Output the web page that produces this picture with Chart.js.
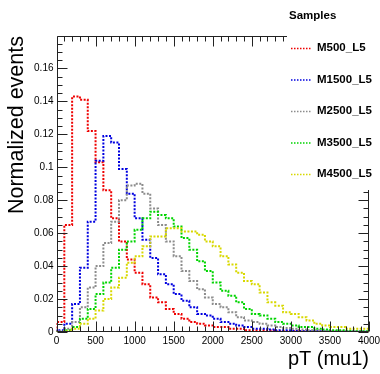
<!DOCTYPE html>
<html>
<head>
<meta charset="utf-8">
<script src="https://cdn.jsdelivr.net/npm/chart.js@4/dist/chart.umd.min.js"></script>
<style>
  html, body { margin: 0; padding: 0; background: #fff; }
  #wrap { width: 380px; height: 374px; }
</style>
</head>
<body>
<div id="wrap"><canvas id="chart" width="380" height="374"></canvas></div>
<script>
// bin edges of pT (mu1), 100 GeV bins
const binEdges = [0, 100, 200, 300, 400, 500, 600, 700, 800, 900, 1000, 1100, 1200, 1300, 1400,
  1500, 1600, 1700, 1800, 1900, 2000, 2100, 2200, 2300, 2400, 2500, 2600, 2700, 2800, 2900,
  3000, 3100, 3200, 3300, 3400, 3500, 3600, 3700, 3800, 3900, 4000];

const sampleNames = ['M500_L5', 'M1500_L5', 'M2500_L5', 'M3500_L5', 'M4500_L5'];
const sampleColors = ['#ee0000', '#0000e0', '#8c8c8c', '#00d400', '#d8d800'];

const m500 = [0.006, 0.065, 0.143, 0.141, 0.122, 0.103, 0.086, 0.069, 0.055, 0.044,
  0.036, 0.029, 0.021, 0.018, 0.014, 0.011, 0.008, 0.006, 0.005, 0.004,
  0.003, 0.003, 0.002, 0.002, 0.001, 0.001, 0.001, 0.001, 0.0005, 0.0005,
  0.0005, 0.0003, 0.0003, 0.0002, 0.0002, 0.0001, 0.0001, 0.0001, 0.0001, 0];
const m1500 = [0.001, 0.005, 0.017, 0.039, 0.067, 0.104, 0.119, 0.115, 0.099, 0.084,
  0.069, 0.056, 0.045, 0.035, 0.029, 0.023, 0.019, 0.015, 0.011, 0.010,
  0.008, 0.006, 0.005, 0.004, 0.003, 0.002, 0.002, 0.0015, 0.001, 0.001,
  0.0008, 0.0006, 0.0005, 0.0004, 0.0003, 0.0002, 0.0002, 0.0001, 0.0001, 0.0001];
const m2500 = [0.0005, 0.002, 0.006, 0.015, 0.027, 0.040, 0.054, 0.067, 0.080, 0.089,
  0.090, 0.084, 0.075, 0.065, 0.055, 0.046, 0.037, 0.031, 0.026, 0.021,
  0.017, 0.015, 0.012, 0.009, 0.007, 0.006, 0.005, 0.004, 0.003, 0.0025,
  0.002, 0.0015, 0.001, 0.001, 0.0008, 0.0006, 0.0005, 0.0004, 0.0003, 0.0002];
const m3500 = [0, 0.001, 0.003, 0.008, 0.014, 0.023, 0.030, 0.039, 0.050, 0.055,
  0.062, 0.069, 0.073, 0.071, 0.069, 0.064, 0.057, 0.050, 0.043, 0.037,
  0.030, 0.025, 0.022, 0.018, 0.014, 0.011, 0.010, 0.008, 0.006, 0.005,
  0.004, 0.003, 0.003, 0.002, 0.0015, 0.001, 0.001, 0.0008, 0.0005, 0.0004];
const m4500 = [0, 0.0005, 0.002, 0.005, 0.008, 0.013, 0.020, 0.027, 0.033, 0.042,
  0.046, 0.052, 0.058, 0.058, 0.063, 0.063, 0.061, 0.061, 0.059, 0.055,
  0.052, 0.046, 0.041, 0.036, 0.031, 0.029, 0.024, 0.018, 0.016, 0.012,
  0.011, 0.009, 0.007, 0.005, 0.004, 0.003, 0.003, 0.002, 0.002, 0.002];

const xTickLabels = [0, 500, 1000, 1500, 2000, 2500, 3000, 3500, 4000];
const yTickLabels = [0, 0.02, 0.04, 0.06, 0.08, 0.1, 0.12, 0.14, 0.16];

const FONT = "'Liberation Sans', Arial, Helvetica, sans-serif";
Chart.defaults.font.family = FONT;

// histogram outline: baseline -> bins -> baseline
function histPoints(vals) {
  const pts = [{ x: binEdges[0], y: 0 }];
  vals.forEach((v, i) => pts.push({ x: binEdges[i], y: v }));
  pts.push({ x: binEdges[binEdges.length - 1], y: vals[vals.length - 1] });
  pts.push({ x: binEdges[binEdges.length - 1], y: 0 });
  return pts;
}

const series = [m500, m1500, m2500, m3500, m4500];

// ROOT-like frame: inward ticks on four sides, legend box in the corner
const rootFrame = {
  id: 'rootFrame',
  afterDraw(chart) {
    const { ctx, chartArea: a } = chart;
    const xs = chart.scales.x, ys = chart.scales.y;
    const L = Math.round(a.left) + 0.5, R = Math.round(a.right) - 0.5;
    const T = Math.round(a.top) + 0.5, B = Math.round(a.bottom) - 0.5;
    ctx.save();
    ctx.strokeStyle = '#222';
    ctx.lineWidth = 1;
    ctx.beginPath();
    ctx.rect(L, T, R - L, B - T);
    for (let v = xs.min; v <= xs.max + 1e-6; v += 100) {
      const px = Math.round(xs.getPixelForValue(v)) + 0.5;
      const len = v % 500 === 0 ? 10 : 5;
      ctx.moveTo(px, B); ctx.lineTo(px, B - len);
      ctx.moveTo(px, T); ctx.lineTo(px, T + len);
    }
    for (let k = 0; k * 0.005 <= ys.max + 1e-9; k++) {
      const py = Math.round(ys.getPixelForValue(k * 0.005)) + 0.5;
      const len = k % 4 === 0 ? 10 : 5;
      ctx.moveTo(L, py); ctx.lineTo(L + len, py);
      ctx.moveTo(R, py); ctx.lineTo(R - len, py);
    }
    ctx.stroke();

    // legend
    ctx.fillStyle = '#fff';
    ctx.fillRect(287, 0, 93, 190);
    ctx.fillStyle = '#000';
    ctx.font = 'bold 11.5px ' + FONT;
    ctx.textBaseline = 'middle';
    ctx.textAlign = 'left';
    ctx.fillText('Samples', 289, 16);
    sampleNames.forEach((name, i) => {
      const yy = 48 + i * 31.5;
      ctx.strokeStyle = sampleColors[i];
      ctx.lineWidth = 1.5;
      ctx.setLineDash([1.5, 1.5]);
      ctx.beginPath();
      ctx.moveTo(291, yy + 0.5); ctx.lineTo(311, yy + 0.5);
      ctx.stroke();
      ctx.fillText(name, 317, yy);
    });
    ctx.restore();
  }
};

new Chart(document.getElementById('chart'), {
  type: 'line',
  data: {
    datasets: series.map((vals, i) => ({
      label: sampleNames[i],
      data: histPoints(vals),
      borderColor: sampleColors[i],
      borderWidth: 2,
      borderDash: [2, 1.5],
      stepped: 'before',
      fill: false,
      pointRadius: 0,
      order: series.length - i,
    })),
  },
  options: {
    responsive: false,
    animation: false,
    layout: { padding: { top: 36, right: 11, left: 0, bottom: 0 } },
    plugins: { legend: { display: false }, tooltip: { enabled: false } },
    scales: {
      x: {
        type: 'linear',
        min: 0,
        max: 4000,
        afterBuildTicks: (s) => { s.ticks = xTickLabels.map((v) => ({ value: v })); },
        afterFit: (s) => { s.height = 42; s.paddingRight = 0; s.paddingLeft = 0; },
        ticks: {
          color: '#000', font: { size: 10 }, maxRotation: 0, padding: 3, autoSkip: false,
          callback: (v) => String(v),
        },
        grid: { display: false, drawTicks: false },
        border: { display: false },
        title: {
          display: true, text: 'pT (mu1)', align: 'end', color: '#000',
          font: { size: 20 }, padding: { top: 0, bottom: 3 },
        },
      },
      y: {
        type: 'linear',
        min: 0,
        max: 0.1797,
        afterBuildTicks: (s) => { s.ticks = yTickLabels.map((v) => ({ value: v })); },
        afterFit: (s) => { s.width = 56.5; s.paddingTop = 0; s.paddingBottom = 0; },
        ticks: {
          color: '#000', font: { size: 10 }, padding: 3, autoSkip: false,
          callback: (v) => String(+v.toFixed(2)),
        },
        grid: { display: false, drawTicks: false },
        border: { display: false },
        title: {
          display: true, text: 'Normalized events', align: 'end', color: '#000',
          font: { size: 21.5 }, padding: { top: 4, bottom: 0 },
        },
      },
    },
  },
  plugins: [rootFrame],
});
</script>
</body>
</html>
